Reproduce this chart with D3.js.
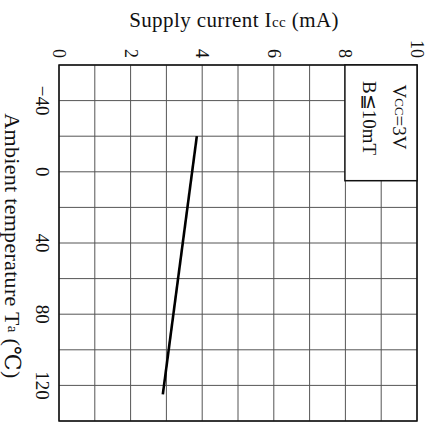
<!DOCTYPE html>
<html>
<head>
<meta charset="utf-8">
<script src="https://cdn.jsdelivr.net/npm/d3@7"></script>
<style>
  body { margin: 0; background: #fff; }
  svg { display: block; }
  text { font-family: "Liberation Serif", "DejaVu Serif", serif; fill: #111; }
</style>
</head>
<body>
<div id="chart"></div>
<script>
// chart is printed turned a quarter clockwise: current runs left->right, temperature top->bottom
var currentTicks = [0, 2, 4, 6, 8, 10];
var tempTicks = [-40, 0, 40, 80, 120];
var lineTemp = [-20, 125];
var lineCurrent = [3.85, 2.9];
var legendLines = ['V', 'B\u226610mT'];

var width = 428, height = 422;

var svg = d3.select('#chart').append('svg')
    .attr('width', width)
    .attr('height', height);

var x = d3.scaleLinear().domain([0, 10]).range([59, 417]);
var y = d3.scaleLinear().domain([-60, 140]).range([65, 421]);

// grid
var grid = svg.append('g').attr('class', 'grid');
grid.selectAll('line.v')
    .data(d3.range(0, 11, 1))
    .enter().append('line')
    .attr('class', 'v')
    .attr('x1', function(d) { return x(d); })
    .attr('x2', function(d) { return x(d); })
    .attr('y1', y(-60))
    .attr('y2', y(140))
    .attr('stroke', '#555')
    .attr('stroke-width', 1);

grid.selectAll('line.h')
    .data(d3.range(-60, 141, 20))
    .enter().append('line')
    .attr('class', 'h')
    .attr('x1', x(0))
    .attr('x2', x(10))
    .attr('y1', function(d) { return y(d); })
    .attr('y2', function(d) { return y(d); })
    .attr('stroke', '#555')
    .attr('stroke-width', 1);

// frame
svg.append('rect')
    .attr('x', x(0))
    .attr('y', y(-60))
    .attr('width', x(10) - x(0))
    .attr('height', y(140) - y(-60))
    .attr('fill', 'none')
    .attr('stroke', '#111')
    .attr('stroke-width', 1.5);

// legend box
svg.append('rect')
    .attr('x', x(8) - 0.5)
    .attr('y', y(-60))
    .attr('width', x(10) - x(8) + 0.5)
    .attr('height', y(5) - y(-60))
    .attr('fill', '#fff')
    .attr('stroke', '#111')
    .attr('stroke-width', 1.5);

var vcc = svg.append('text')
    .attr('transform', 'translate(400,117) rotate(90)')
    .attr('text-anchor', 'middle')
    .attr('dominant-baseline', 'central')
    .attr('font-size', 19);
vcc.append('tspan').text(legendLines[0]);
vcc.append('tspan').attr('font-size', 13).text('CC');
vcc.append('tspan').text('=3V');

svg.append('text')
    .attr('transform', 'translate(369,118) rotate(90)')
    .attr('text-anchor', 'middle')
    .attr('dominant-baseline', 'central')
    .attr('font-size', 19)
    .text(legendLines[1]);

// data line
var line = d3.line()
    .x(function(d) { return x(d[1]); })
    .y(function(d) { return y(d[0]); });

svg.append('path')
    .datum(d3.zip(lineTemp, lineCurrent))
    .attr('d', line)
    .attr('fill', 'none')
    .attr('stroke', '#000')
    .attr('stroke-width', 2.6);

// current tick labels (top)
svg.selectAll('text.ct')
    .data(currentTicks)
    .enter().append('text')
    .attr('class', 'ct')
    .attr('transform', function(d) { return 'translate(' + x(d) + ',58) rotate(90)'; })
    .attr('text-anchor', 'end')
    .attr('dominant-baseline', 'central')
    .attr('font-size', 18)
    .text(function(d) { return d; });

// temperature tick labels (left)
svg.selectAll('text.tt')
    .data(tempTicks)
    .enter().append('text')
    .attr('class', 'tt')
    .attr('transform', function(d) { return 'translate(42,' + y(d) + ') rotate(90)'; })
    .attr('text-anchor', 'middle')
    .attr('dominant-baseline', 'central')
    .attr('font-size', 19)
    .text(function(d) { return d < 0 ? '\u2212' + Math.abs(d) : d; });

// axis titles
var title = svg.append('text')
    .attr('x', 234)
    .attr('y', 27)
    .attr('text-anchor', 'middle')
    .attr('font-size', 21)
    .attr('letter-spacing', 0.4);
title.append('tspan').text('Supply current I');
title.append('tspan').attr('font-size', 15).text('cc');
title.append('tspan').text(' (mA)');

var xt = svg.append('text')
    .attr('transform', 'translate(13,246) rotate(90)')
    .attr('text-anchor', 'middle')
    .attr('dominant-baseline', 'central')
    .attr('font-size', 22)
    .attr('letter-spacing', 0.3);
xt.append('tspan').text('Ambient temperature T');
xt.append('tspan').attr('font-size', 15).text('a');
xt.append('tspan').text(' (\u2103)');
</script>
</body>
</html>
